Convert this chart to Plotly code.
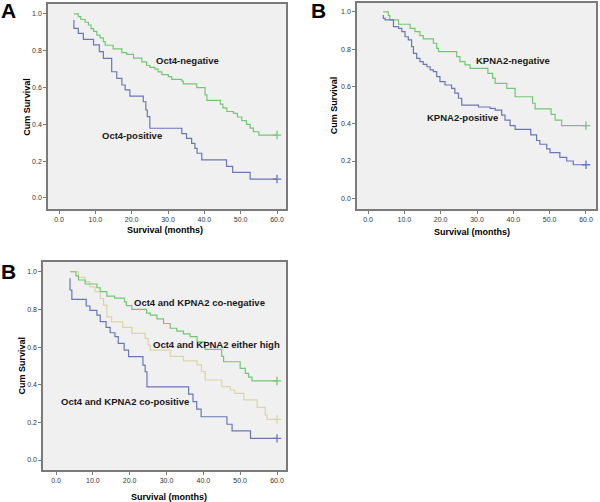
import plotly.graph_objects as go

# ---------------- data ----------------
x_ticks = [0, 10, 20, 30, 40, 50, 60]
y_ticks = [0.0, 0.2, 0.4, 0.6, 0.8, 1.0]

# Panel A: Oct4
a_neg_t = [4.1, 5.3, 6.0, 7.2, 8.1, 8.8, 9.5, 10.4, 11.3, 12.2, 12.7, 14.9, 17.3, 18.6, 20.5, 22.8, 24.1, 25.0, 26.4, 27.3, 28.3, 30.1, 31.0, 33.8, 34.2, 37.9, 40.2, 40.7, 44.4, 45.1, 46.2, 48.0, 49.1, 50.3, 51.6, 52.6, 53.5, 55.0, 60.0]
a_neg_s = [1.0, 0.985, 0.97, 0.955, 0.94, 0.92, 0.905, 0.885, 0.87, 0.85, 0.83, 0.81, 0.79, 0.78, 0.76, 0.74, 0.72, 0.71, 0.70, 0.685, 0.67, 0.66, 0.645, 0.635, 0.62, 0.60, 0.56, 0.53, 0.51, 0.49, 0.47, 0.46, 0.44, 0.42, 0.40, 0.38, 0.36, 0.342, 0.342]
a_pos_t = [4.1, 4.1, 5.3, 6.7, 9.5, 11.1, 12.2, 14.5, 15.9, 17.3, 18.2, 19.5, 23.2, 23.9, 24.3, 25.0, 33.8, 35.1, 36.5, 37.4, 38.0, 39.3, 46.1, 47.8, 52.6, 60.0]
a_pos_s = [0.967, 0.922, 0.895, 0.862, 0.832, 0.795, 0.759, 0.686, 0.65, 0.614, 0.587, 0.554, 0.523, 0.478, 0.442, 0.379, 0.35, 0.324, 0.297, 0.27, 0.243, 0.207, 0.172, 0.139, 0.103, 0.103]

# Panel B: KPNA2
b_neg_t = [4.2, 5.6, 6.0, 8.4, 11.6, 12.9, 14.3, 15.2, 18.0, 18.9, 19.4, 24.4, 25.3, 26.7, 28.1, 33.0, 34.3, 35.0, 38.2, 40.5, 45.3, 46.0, 50.4, 51.5, 53.3, 60.0]
b_neg_s = [1.0, 0.98, 0.957, 0.934, 0.912, 0.894, 0.873, 0.855, 0.832, 0.805, 0.787, 0.76, 0.733, 0.716, 0.697, 0.67, 0.645, 0.617, 0.59, 0.545, 0.51, 0.48, 0.45, 0.42, 0.39, 0.39]
b_pos_t = [4.2, 4.2, 4.7, 7.0, 8.4, 9.3, 10.2, 11.1, 12.0, 12.5, 13.4, 14.3, 15.2, 16.2, 17.1, 18.0, 18.9, 19.8, 21.2, 23.0, 23.9, 24.9, 25.8, 30.4, 33.6, 35.0, 36.8, 37.7, 39.1, 40.5, 44.8, 46.4, 47.3, 49.2, 50.1, 52.8, 54.7, 56.5, 60.0]
b_pos_s = [0.984, 0.966, 0.957, 0.921, 0.912, 0.894, 0.867, 0.85, 0.814, 0.778, 0.751, 0.733, 0.719, 0.706, 0.689, 0.68, 0.653, 0.626, 0.608, 0.59, 0.564, 0.537, 0.50, 0.49, 0.482, 0.473, 0.446, 0.42, 0.39, 0.37, 0.34, 0.31, 0.29, 0.265, 0.245, 0.22, 0.20, 0.18, 0.18]

# Panel C: combined
c_neg_t = [3.8, 5.4, 6.1, 7.9, 11.1, 12.0, 13.8, 15.9, 18.6, 19.1, 20.6, 24.6, 25.6, 27.4, 29.2, 31.0, 32.8, 34.6, 36.4, 38.3, 40.5, 45.0, 45.5, 50.0, 51.4, 52.3, 53.2, 60.0]
c_neg_s = [1.0, 0.978, 0.956, 0.935, 0.915, 0.894, 0.87, 0.86, 0.84, 0.82, 0.80, 0.78, 0.77, 0.75, 0.725, 0.70, 0.685, 0.67, 0.655, 0.628, 0.588, 0.55, 0.522, 0.487, 0.46, 0.44, 0.42, 0.42]
c_mid_t = [3.8, 6.1, 7.9, 9.2, 10.6, 12.0, 12.9, 13.8, 15.1, 18.1, 20.6, 24.2, 25.0, 25.6, 31.0, 34.6, 38.3, 39.5, 40.5, 45.0, 47.3, 48.5, 51.0, 54.6, 56.8, 57.3, 60.0]
c_mid_s = [1.0, 0.97, 0.947, 0.92, 0.894, 0.858, 0.823, 0.76, 0.734, 0.704, 0.673, 0.646, 0.61, 0.584, 0.55, 0.527, 0.505, 0.47, 0.425, 0.39, 0.372, 0.354, 0.32, 0.28, 0.24, 0.216, 0.216]
c_pos_t = [3.8, 3.8, 4.3, 8.2, 9.2, 11.1, 12.0, 13.6, 14.7, 16.0, 16.9, 18.5, 19.7, 23.6, 24.2, 24.7, 36.0, 37.2, 38.2, 39.4, 46.4, 47.8, 52.8, 60.0]
c_pos_s = [0.965, 0.903, 0.853, 0.818, 0.795, 0.77, 0.735, 0.704, 0.676, 0.655, 0.62, 0.584, 0.549, 0.504, 0.469, 0.389, 0.35, 0.31, 0.27, 0.23, 0.19, 0.155, 0.115, 0.115]

GREEN = "#72c872"
BLUE = "#6a76b8"
YELLOW = "#dad5a6"
FONT = "Liberation Sans, Arial, sans-serif"

fig = go.Figure()


def km(t, s, color, xa, ya):
    fig.add_trace(go.Scatter(x=t, y=s, mode="lines",
                             line=dict(color=color, width=1.2, shape="hv"),
                             xaxis=xa, yaxis=ya, showlegend=False, hoverinfo="skip"))
    fig.add_trace(go.Scatter(x=[t[-1]], y=[s[-1]], mode="markers",
                             marker=dict(symbol="cross-thin", size=6,
                                         line=dict(color=color, width=1.3)),
                             xaxis=xa, yaxis=ya, showlegend=False, hoverinfo="skip"))


km(a_neg_t, a_neg_s, GREEN, "x", "y")
km(a_pos_t, a_pos_s, BLUE, "x", "y")
km(b_neg_t, b_neg_s, GREEN, "x2", "y2")
km(b_pos_t, b_pos_s, BLUE, "x2", "y2")
km(c_mid_t, c_mid_s, YELLOW, "x3", "y3")
km(c_neg_t, c_neg_s, GREEN, "x3", "y3")
km(c_pos_t, c_pos_s, BLUE, "x3", "y3")


def ax(**kw):
    d = dict(showline=True, mirror=True, linecolor="#7a7a7a", linewidth=1.5,
             ticks="outside", ticklen=3, tickcolor="#7a7a7a", tickwidth=1,
             tickfont=dict(family=FONT, size=7, color="#333333"),
             showgrid=False, zeroline=False, tickformat=".1f", fixedrange=True)
    d.update(kw)
    return d


fig.update_layout(
    width=600, height=502,
    margin=dict(l=0, r=0, t=0, b=0),
    paper_bgcolor="white", plot_bgcolor="#f0f0f0",
    xaxis=ax(domain=[0.08, 0.4767], range=[-3.03, 62.48], tickvals=x_ticks, anchor="y"),
    yaxis=ax(domain=[0.5837, 0.992], range=[-0.0598, 1.054], tickvals=y_ticks, anchor="x"),
    xaxis2=ax(domain=[0.595, 0.9933], range=[-3.03, 62.75], tickvals=x_ticks, anchor="y2"),
    yaxis2=ax(domain=[0.5837, 0.994], range=[-0.0574, 1.048], tickvals=y_ticks, anchor="x2"),
    xaxis3=ax(domain=[0.0717, 0.4767], range=[-3.53, 62.45], tickvals=x_ticks, anchor="y3"),
    yaxis3=ax(domain=[0.0637, 0.478], range=[-0.053, 1.0515], tickvals=y_ticks, anchor="x3"),
)

H = 502.0
W = 600.0


def paper_text(text, px, py, size, angle=0):
    fig.add_annotation(text=text, x=px / W, y=1 - py / H, xref="paper", yref="paper",
                       showarrow=False, textangle=angle, xanchor="center", yanchor="middle",
                       font=dict(family=FONT, size=size, color="black"))


# panel letters
paper_text("<b>A</b>", 8, 11, 21)
paper_text("<b>B</b>", 318, 11, 21)
paper_text("<b>B</b>", 8, 271, 21)

# axis titles
paper_text("<b>Cum Survival</b>", 27, 106.7, 9, -90)
paper_text("<b>Survival (months)</b>", 165.3, 230, 9)
paper_text("<b>Cum Survival</b>", 333.5, 105.8, 9, -90)
paper_text("<b>Survival (months)</b>", 471.8, 231.5, 9)
paper_text("<b>Cum Survival</b>", 21.7, 365.8, 9, -90)
paper_text("<b>Survival (months)</b>", 169, 496.7, 9)


def data_text(text, x, y, xr, yr):
    fig.add_annotation(text="<b>" + text + "</b>", x=x, y=y, xref=xr, yref=yr,
                       showarrow=False, xanchor="center", yanchor="middle",
                       font=dict(family=FONT, size=9.5, color="#1a1a1a"))


data_text("Oct4-negative", 35.5, 0.745, "x", "y")
data_text("Oct4-positive", 20.1, 0.337, "x", "y")
data_text("KPNA2-negative", 40.0, 0.737, "x2", "y2")
data_text("KPNA2-positive", 26.1, 0.432, "x2", "y2")
data_text("Oct4 and KPNA2 co-negative", 38.9, 0.835, "x3", "y3")
data_text("Oct4 and KPNA2 either high", 43.6, 0.611, "x3", "y3")
data_text("Oct4 and KPNA2 co-positive", 18.7, 0.31, "x3", "y3")

fig.write_html("out.html", config={"displayModeBar": False},
               post_script="document.body.style.margin='0';document.body.style.overflow='hidden';")
